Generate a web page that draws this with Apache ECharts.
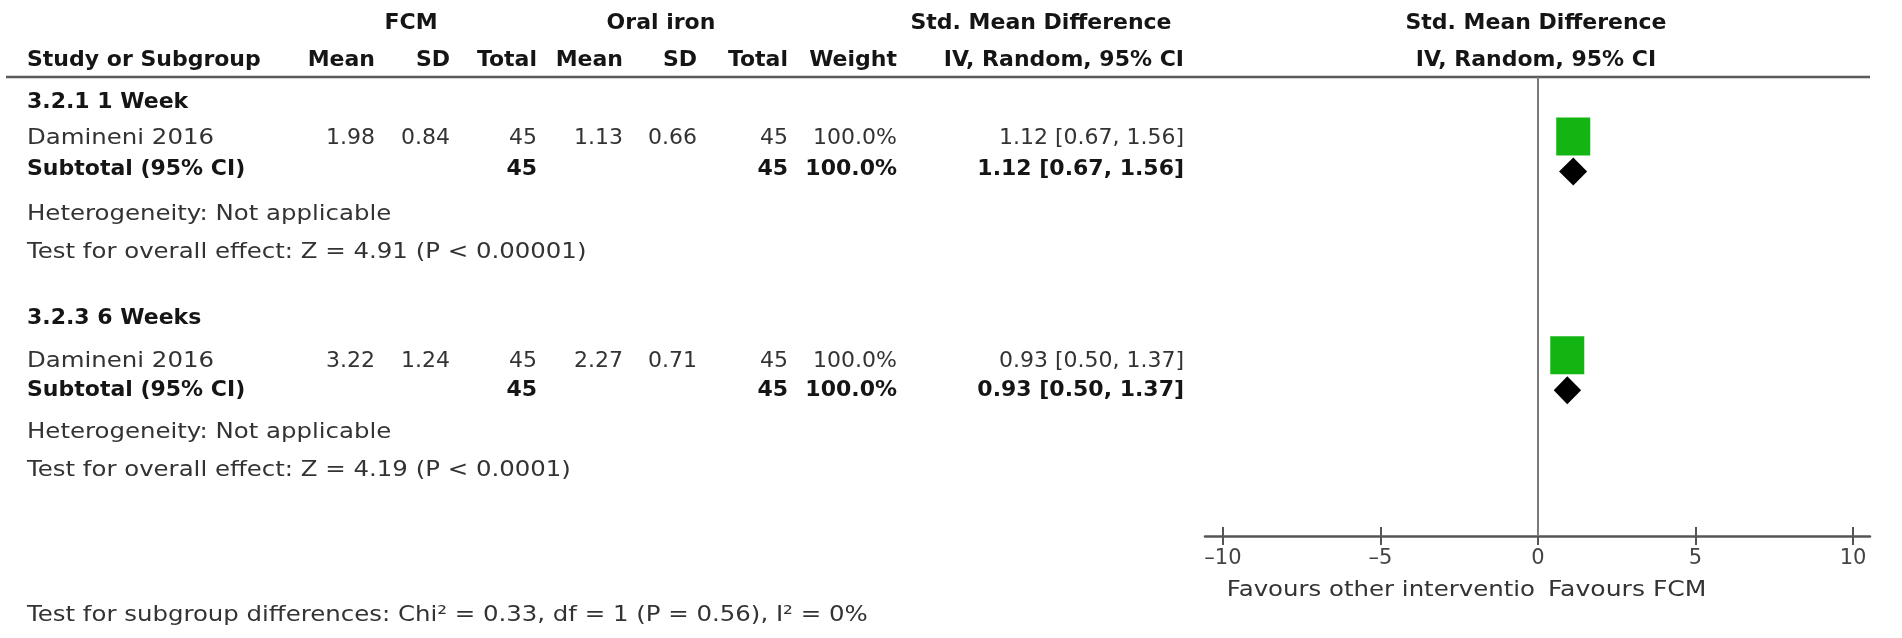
<!DOCTYPE html>
<html>
<head>
<meta charset="utf-8">
<script src="https://cdn.jsdelivr.net/npm/echarts@6/dist/echarts.min.js"></script>
<style>
html,body{margin:0;padding:0;background:#fff;}
#chart{width:1902px;height:638px;}
</style>
</head>
<body>
<div id="chart"></div>
<script>
// ---------- DATA ----------
const groups = ['3.2.1 1 Week', '3.2.3 6 Weeks'];
const studies = ['Damineni 2016', 'Damineni 2016'];
const fcmMean = ['1.98', '3.22'];
const fcmSD = ['0.84', '1.24'];
const fcmTotal = [45, 45];
const oralMean = ['1.13', '2.27'];
const oralSD = ['0.66', '0.71'];
const oralTotal = [45, 45];
const weights = ['100.0%', '100.0%'];
const smd = [1.12, 0.93];
const ciLow = [0.67, 0.50];
const ciHigh = [1.56, 1.37];
const subSmd = [1.12, 0.93];
const subLow = [0.67, 0.50];
const subHigh = [1.56, 1.37];
const subFcmTotal = [45, 45];
const subOralTotal = [45, 45];
const subWeight = ['100.0%', '100.0%'];
const heterogeneity = ['Heterogeneity: Not applicable', 'Heterogeneity: Not applicable'];
const overallEffect = ['Test for overall effect: Z = 4.91 (P < 0.00001)', 'Test for overall effect: Z = 4.19 (P < 0.0001)'];
const subgroupTest = 'Test for subgroup differences: Chi\u00B2 = 0.33, df = 1 (P = 0.56), I\u00B2 = 0%';
const xTicks = [-10, -5, 0, 5, 10];
const favourLeft = 'Favours other interventio';
const favourRight = 'Favours FCM';

// ---------- LAYOUT ----------
const FONT = '"DejaVu Sans", sans-serif';
const FS = 22;
const WIDE = 1.11;  // horizontal stretch for regular wording
const col = {left: 27, fMean: 375, fSD: 450, fTot: 537, oMean: 623, oSD: 697, oTot: 788, weight: 897, ci: 1184};
const rowGroupY = [102, 318], rowStudyY = [138, 361], rowSubY = [169, 390], rowHetY = [214, 432], rowTestY = [252, 470];
const plotStudyRow = [1.7, 7.95], plotSubRow = [2.7, 8.95];
const fmt = v => v.toFixed(2);

const texts = [];
function T(str, x, y, align, bold, sx) {
  texts.push({
    type: 'text', silent: true, x: x, y: y, scaleX: sx || 1,
    style: {
      text: str, x: 0, y: 0, textAlign: align || 'left', textVerticalAlign: 'middle',
      font: (bold ? 'bold ' : '') + FS + 'px ' + FONT,
      fill: bold ? '#151515' : '#333'
    }
  });
}
// headers
T('FCM', 411, 23, 'center', true);
T('Oral iron', 661, 23, 'center', true);
T('Std. Mean Difference', 1041, 23, 'center', true);
T('Std. Mean Difference', 1536, 23, 'center', true);
T('Study or Subgroup', col.left, 60, 'left', true);
T('Mean', col.fMean, 60, 'right', true);
T('SD', col.fSD, 60, 'right', true);
T('Total', col.fTot, 60, 'right', true);
T('Mean', col.oMean, 60, 'right', true);
T('SD', col.oSD, 60, 'right', true);
T('Total', col.oTot, 60, 'right', true);
T('Weight', col.weight, 60, 'right', true);
T('IV, Random, 95% CI', col.ci, 60, 'right', true);
T('IV, Random, 95% CI', 1536, 60, 'center', true);

for (let g = 0; g < groups.length; g++) {
  T(groups[g], col.left, rowGroupY[g], 'left', true);
  const y = rowStudyY[g];
  T(studies[g], col.left, y, 'left', false, WIDE);
  T(fcmMean[g], col.fMean, y, 'right');
  T(fcmSD[g], col.fSD, y, 'right');
  T(String(fcmTotal[g]), col.fTot, y, 'right');
  T(oralMean[g], col.oMean, y, 'right');
  T(oralSD[g], col.oSD, y, 'right');
  T(String(oralTotal[g]), col.oTot, y, 'right');
  T(weights[g], col.weight, y, 'right');
  T(fmt(smd[g]) + ' [' + fmt(ciLow[g]) + ', ' + fmt(ciHigh[g]) + ']', col.ci, y, 'right');
  const ys = rowSubY[g];
  T('Subtotal (95% CI)', col.left, ys, 'left', true);
  T(String(subFcmTotal[g]), col.fTot, ys, 'right', true);
  T(String(subOralTotal[g]), col.oTot, ys, 'right', true);
  T(subWeight[g], col.weight, ys, 'right', true);
  T(fmt(subSmd[g]) + ' [' + fmt(subLow[g]) + ', ' + fmt(subHigh[g]) + ']', col.ci, ys, 'right', true);
  T(heterogeneity[g], col.left, rowHetY[g], 'left', false, WIDE);
  T(overallEffect[g], col.left, rowTestY[g], 'left', false, WIDE);
}
T(subgroupTest, col.left, 615, 'left', false, WIDE);
T(favourLeft, 1535, 590, 'right', false, WIDE);
T(favourRight, 1548, 590, 'left', false, 1.14);

// header rule
texts.push({type: 'line', silent: true, shape: {x1: 6, y1: 77, x2: 1870, y2: 77}, style: {stroke: '#5a5a5a', lineWidth: 2.5}});

const chart = echarts.init(document.getElementById('chart'), null, {renderer: 'canvas'});

const studyPts = smd.map((v, i) => [v, plotStudyRow[i], ciLow[i], ciHigh[i]]);
const subPts = subSmd.map((v, i) => [v, plotSubRow[i], subLow[i], subHigh[i]]);

const axisCommon = {
  type: 'value', min: -10.57, max: 10.54, position: 'bottom',
  splitLine: {show: false}
};

chart.setOption({
  animation: false,
  backgroundColor: '#fff',
  grid: {left: 1205, right: 32, top: 77, bottom: 102, containLabel: false},
  xAxis: [
    Object.assign({}, axisCommon, {
      axisLine: {show: true, onZero: false, lineStyle: {color: '#555', width: 2.5}},
      axisTick: {show: true, customValues: xTicks, length: 9, lineStyle: {color: '#555', width: 2}},
      axisLabel: {show: true, customValues: xTicks, margin: 12, fontSize: 21, fontFamily: FONT, color: '#444',
        formatter: v => (v < 0 ? '\u2013' + Math.abs(v) : String(v))}
    }),
    Object.assign({}, axisCommon, {
      axisLine: {show: false, onZero: false},
      axisTick: {show: true, inside: true, customValues: xTicks, length: 9, lineStyle: {color: '#555', width: 2}},
      axisLabel: {show: false}
    })
  ],
  yAxis: {type: 'value', inverse: true, min: 0, max: 13.11, show: false},
  series: [
    {
      type: 'custom', xAxisIndex: 0, z: 2,
      data: studyPts,
      renderItem: function (params, api) {
        const a = api.coord([api.value(2), api.value(1)]);
        const b = api.coord([api.value(3), api.value(1)]);
        return {type: 'line', shape: {x1: a[0], y1: a[1], x2: b[0], y2: b[1]}, style: {stroke: '#000', lineWidth: 1.5}};
      },
      markLine: {
        silent: true, symbol: 'none', label: {show: false},
        lineStyle: {color: '#7a7a7a', width: 2, type: 'solid'},
        data: [{xAxis: 0}]
      }
    },
    {
      type: 'scatter', xAxisIndex: 0, z: 3,
      data: studyPts.map(p => [p[0], p[1]]),
      symbol: 'rect', symbolSize: [34, 38],
      itemStyle: {color: '#12b512', opacity: 1}
    },
    {
      type: 'custom', xAxisIndex: 0, z: 4,
      data: subPts,
      renderItem: function (params, api) {
        const y = api.value(1);
        const l = api.coord([api.value(2), y]);
        const c = api.coord([api.value(0), y]);
        const r = api.coord([api.value(3), y]);
        const h = 14;
        return {
          type: 'polygon',
          shape: {points: [[l[0], l[1]], [c[0], c[1] - h], [r[0], r[1]], [c[0], c[1] + h]]},
          style: {fill: '#000'}
        };
      }
    }
  ],
  graphic: texts
});
</script>
</body>
</html>
